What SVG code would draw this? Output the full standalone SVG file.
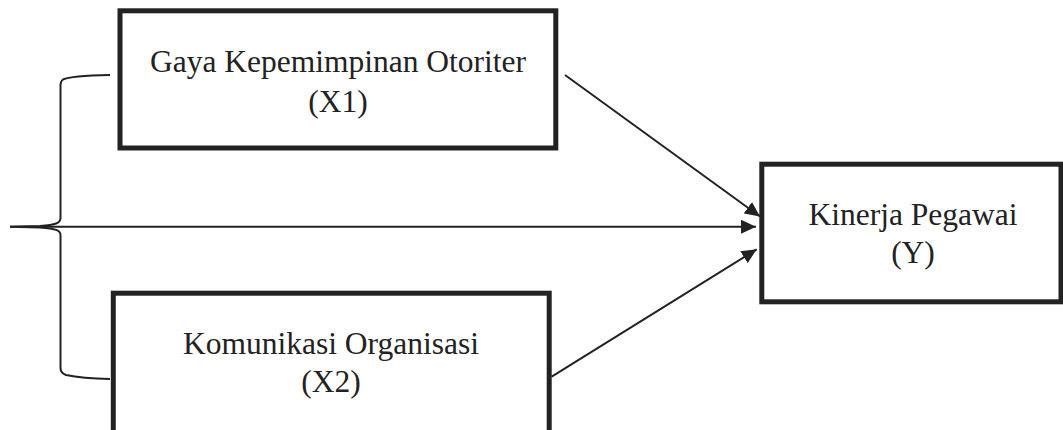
<svg xmlns="http://www.w3.org/2000/svg" width="1063" height="430" viewBox="0 0 1063 430">
<style>
.box{fill:#fff;stroke:#222;stroke-width:5}
.lbl{font-family:"Liberation Serif","Times New Roman",serif;font-size:31.5px;fill:#222;text-anchor:middle}
.con{fill:none;stroke:#222;stroke-width:2}
</style>
<defs>
<marker id="ah" viewBox="0 0 15 14" refX="15" refY="7" markerWidth="15" markerHeight="14" markerUnits="userSpaceOnUse" orient="auto">
<path d="M0,0 L15,7 L0,14 z" fill="#222"/>
</marker>
</defs>
<rect width="1063" height="430" fill="#fff"/>
<g id="x1">
<rect class="box" x="120" y="10.8" width="435.8" height="137.2"/>
<text class="lbl" x="338" y="72">Gaya Kepemimpinan Otoriter</text>
<text class="lbl" x="338" y="112">(X1)</text>
</g>
<g id="x2">
<rect class="box" x="113.3" y="293.2" width="435.9" height="160"/>
<text class="lbl" x="331" y="354">Komunikasi Organisasi</text>
<text class="lbl" x="331" y="392">(X2)</text>
</g>
<g id="y">
<rect class="box" x="761.8" y="164.2" width="299.2" height="137.6"/>
<text class="lbl" x="913" y="225">Kinerja Pegawai</text>
<text class="lbl" x="913" y="263">(Y)</text>
</g>
<g id="connectors">
<path class="con" d="M110,75 C85,75.5 68,77 63,79.5 Q60.5,81 60.5,86 L60.5,218 C60.5,223 56,225 40,226 L10,226.7 L40,227.4 C56,228.5 60.5,230.5 60.5,235 L60.5,368 Q60.5,373 66,375 C80,378 95,378.7 110,379"/>
<line class="con" x1="10" y1="226.7" x2="756" y2="226.7" marker-end="url(#ah)"/>
<line class="con" x1="565" y1="75" x2="760" y2="216.5" marker-end="url(#ah)"/>
<line class="con" x1="551.7" y1="376.7" x2="756.7" y2="249.3" marker-end="url(#ah)"/>
</g>
</svg>
